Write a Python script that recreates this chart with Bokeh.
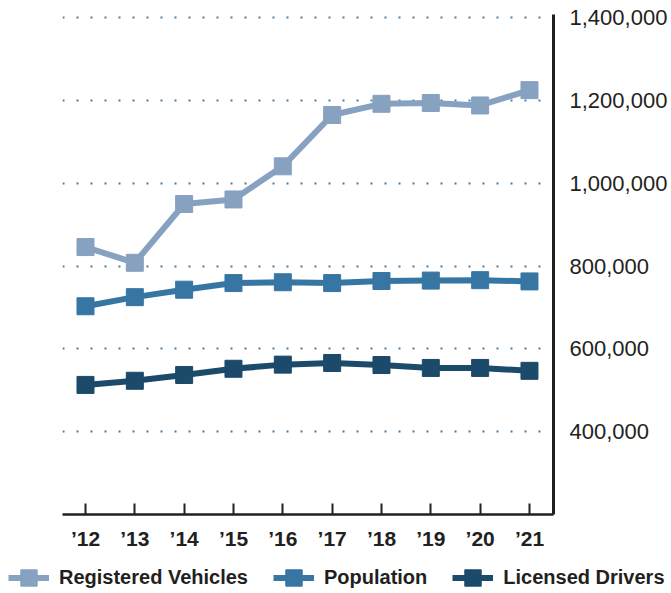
from bokeh.plotting import figure
from bokeh.layouts import column
from bokeh.models import Range1d, FixedTicker, Legend, LegendItem, NumeralTickFormatter
from bokeh.embed import file_html
from bokeh.resources import INLINE

years = ["\u201912", "\u201913", "\u201914", "\u201915", "\u201916",
         "\u201917", "\u201918", "\u201919", "\u201920", "\u201921"]
registered_vehicles = [846000, 808000, 950000, 961000, 1041000,
                       1165000, 1192000, 1194000, 1188000, 1225000]
population = [703000, 725000, 743000, 759000, 761000,
              759000, 764000, 765000, 766000, 763000]
licensed_drivers = [513000, 523000, 537000, 552000, 562000,
                    566000, 561000, 554000, 554000, 547000]
y_ticks = [400000, 600000, 800000, 1000000, 1200000, 1400000]

series_names = ["Registered Vehicles", "Population", "Licensed Drivers"]
colors = ["#87a1c0", "#3776a3", "#1c4a6a"]
series = [registered_vehicles, population, licensed_drivers]

xs = list(range(len(years)))

p = figure(width=671, height=557, output_backend="svg", toolbar_location=None,
           x_range=Range1d(-0.466, 9.487), y_range=Range1d(200000, 1407700),
           y_axis_location="right",
           min_border_left=62, min_border_right=118, min_border_top=14, min_border_bottom=43)
p.frame_align = False
p.outline_line_color = None
p.background_fill_color = "white"
p.border_fill_color = "white"

for vals, col in zip(series, colors):
    p.line(xs, vals, line_color=col, line_width=6)
    p.scatter(xs, vals, marker="square", size=17, fill_color=col, line_color=col)

# axes
xa = p.xaxis[0]
xa.ticker = FixedTicker(ticks=xs)
xa.major_label_overrides = {i: y for i, y in enumerate(years)}
xa.axis_line_color = "#231f20"
xa.axis_line_width = 2.5
xa.major_tick_line_color = "#231f20"
xa.major_tick_line_width = 2
xa.major_tick_in = 11
xa.major_tick_out = 0
xa.minor_tick_line_color = None
xa.major_label_standoff = 12
xa.major_label_text_font = "Liberation Sans"
xa.major_label_text_font_style = "bold"
xa.major_label_text_font_size = "21px"
xa.major_label_text_color = "#231f20"

ya = p.yaxis[0]
ya.ticker = FixedTicker(ticks=y_ticks)
ya.formatter = NumeralTickFormatter(format="0,0")
ya.axis_line_color = "#231f20"
ya.axis_line_width = 3
ya.major_tick_line_color = None
ya.minor_tick_line_color = None
ya.major_label_standoff = 10
ya.major_label_text_font = "Liberation Sans"
ya.major_label_text_font_size = "22px"
ya.major_label_text_color = "#231f20"

p.xgrid.grid_line_color = None
p.ygrid.grid_line_color = "#4a7ca4"
p.ygrid.grid_line_width = 2
p.ygrid.grid_line_dash = "2 12"

# legend strip (its glyphs use the same data, placed outside its visible range)
pl = figure(width=671, height=36, output_backend="svg", toolbar_location=None,
            x_range=Range1d(100, 101), y_range=Range1d(0, 1),
            x_axis_location=None, y_axis_location=None, min_border=0)
pl.frame_align = False
pl.outline_line_color = None
pl.xgrid.grid_line_color = None
pl.ygrid.grid_line_color = None
items = []
for name, vals, col in zip(series_names, series, colors):
    ln = pl.line(xs, vals, line_color=col, line_width=6)
    sq = pl.scatter(xs, vals, marker="square", size=17, fill_color=col, line_color=col)
    items.append(LegendItem(label=name, renderers=[ln, sq]))

legend = Legend(items=items, orientation="horizontal", location=(8, -5),
                padding=0, margin=0, border_line_color=None, background_fill_alpha=0,
                glyph_width=41, glyph_height=41, label_standoff=10, spacing=25,
                label_text_font="Liberation Sans", label_text_font_style="bold",
                label_text_font_size="20px", label_text_color="#231f20")
pl.add_layout(legend, "center")

layout = column(p, pl)
open("out.html", "w").write(file_html(layout, INLINE))
